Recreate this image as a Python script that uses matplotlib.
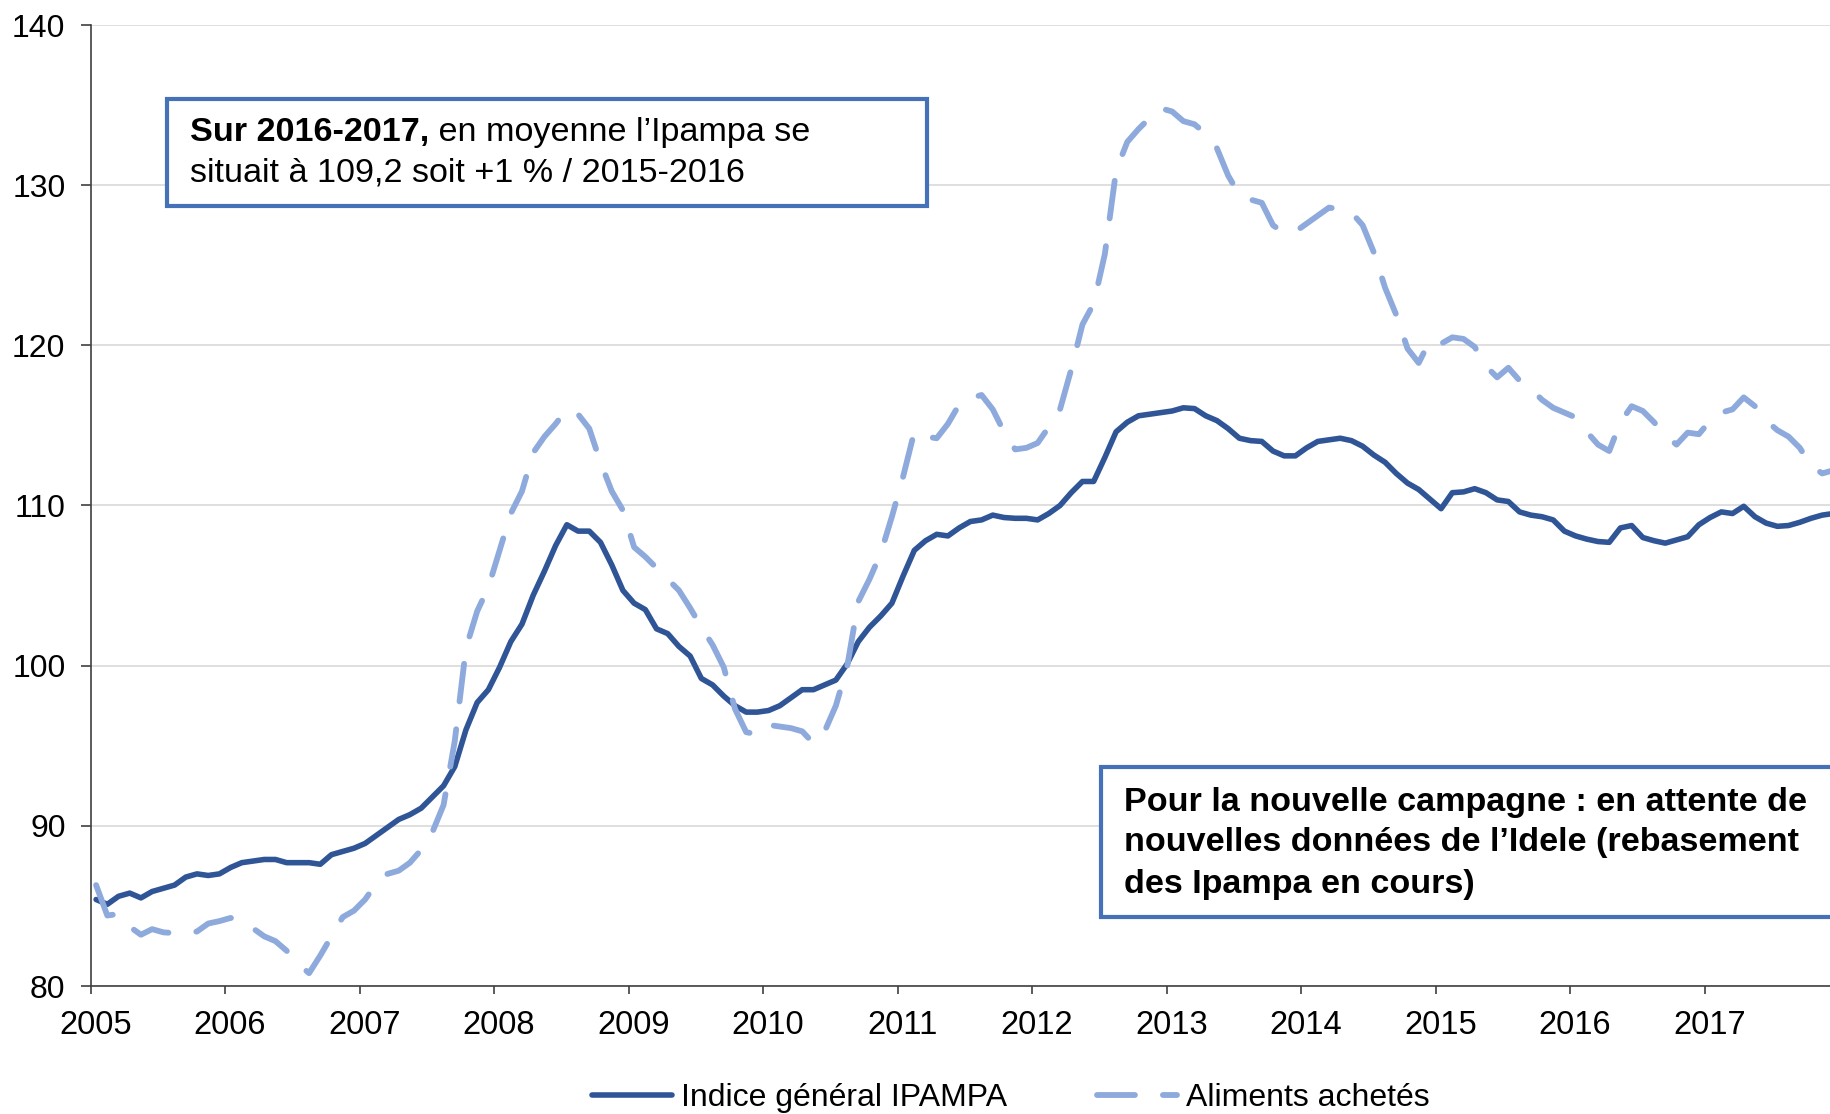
import matplotlib
matplotlib.use("Agg")
import matplotlib.pyplot as plt
from matplotlib.patches import Rectangle
from matplotlib.text import Annotation
from matplotlib.transforms import ScaledTranslation
import numpy as np

# indices mensuels, janvier 2005 -> décembre 2017
ipampa = [
    85.4, 85.1, 85.6, 85.8, 85.5, 85.9, 86.1, 86.3, 86.8, 87.0, 86.9, 87.0,        # 2005
    87.4, 87.7, 87.8, 87.9, 87.9, 87.7, 87.7, 87.7, 87.6, 88.2, 88.4, 88.6,        # 2006
    88.9, 89.4, 89.9, 90.4, 90.7, 91.1, 91.8, 92.5, 93.7, 96.0, 97.7, 98.5,        # 2007
    99.9, 101.5, 102.6, 104.4, 105.9, 107.5, 108.8, 108.4, 108.4, 107.7, 106.3, 104.7,  # 2008
    103.9, 103.5, 102.3, 102.0, 101.2, 100.6, 99.2, 98.8, 98.1, 97.5, 97.1, 97.1,  # 2009
    97.2, 97.5, 98.0, 98.5, 98.5, 98.8, 99.1, 100.1, 101.5, 102.4, 103.1, 103.9,   # 2010
    105.6, 107.2, 107.8, 108.2, 108.1, 108.6, 109.0, 109.1, 109.4, 109.25, 109.2, 109.2,  # 2011
    109.1, 109.5, 110.0, 110.8, 111.5, 111.5, 113.0, 114.6, 115.2, 115.6, 115.7, 115.8,   # 2012
    115.9, 116.1, 116.05, 115.6, 115.3, 114.8, 114.2, 114.05, 114.0, 113.4, 113.1, 113.1,  # 2013
    113.6, 114.0, 114.1, 114.2, 114.05, 113.7, 113.15, 112.7, 112.0, 111.4, 111.0, 110.4,  # 2014
    109.8, 110.8, 110.85, 111.05, 110.8, 110.35, 110.25, 109.6, 109.4, 109.3, 109.1, 108.4,  # 2015
    108.1, 107.9, 107.75, 107.7, 108.6, 108.75, 108.0, 107.8, 107.65, 107.85, 108.05, 108.8,  # 2016
    109.25, 109.6, 109.5, 109.95, 109.3, 108.9, 108.7, 108.75, 108.95, 109.2, 109.4, 109.5,   # 2017
]

aliments = [
    86.3, 84.4, 84.5, 83.7, 83.2, 83.55, 83.35, 83.3, 83.3, 83.4, 83.9, 84.05,     # 2005
    84.25, 84.1, 83.6, 83.1, 82.8, 82.2, 81.4, 80.8, 81.9, 83.1, 84.3, 84.7,       # 2006
    85.4, 86.4, 87.0, 87.2, 87.7, 88.5, 89.6, 91.3, 95.3, 101.1, 103.4, 104.9,     # 2007
    107.2, 109.5, 110.9, 113.3, 114.3, 115.1, 116.0, 115.7, 114.8, 112.7, 110.9, 109.7,  # 2008
    107.4, 106.8, 106.1, 105.4, 104.7, 103.6, 102.4, 101.3, 99.9, 97.3, 95.85, 95.7,    # 2009
    96.3, 96.2, 96.1, 95.9, 95.15, 95.9, 97.5, 99.9, 104.0, 105.4, 107.0, 109.3,   # 2010
    111.8, 114.6, 114.3, 114.2, 115.1, 116.3, 116.7, 116.9, 116.0, 114.6, 113.5, 113.6,  # 2011
    113.9, 114.9, 116.0, 118.5, 121.3, 122.6, 125.7, 130.9, 132.7, 133.5, 134.2, 134.8,  # 2012
    134.6, 134.0, 133.8, 133.2, 132.3, 130.6, 129.4, 129.1, 128.9, 127.5, 127.0, 127.1,  # 2013
    127.6, 128.1, 128.6, 128.5, 128.3, 127.5, 125.8, 123.6, 121.9, 119.8, 118.9, 120.3,  # 2014
    120.1, 120.5, 120.4, 119.9, 118.7, 118.0, 118.6, 117.8, 117.3, 116.6, 116.1, 115.8,  # 2015
    115.5, 114.6, 113.8, 113.4, 115.2, 116.2, 115.9, 115.2, 114.4, 113.8, 114.55, 114.45,  # 2016
    115.3, 115.8, 116.0, 116.75, 116.2, 115.3, 114.7, 114.3, 113.6, 112.5, 112.0, 112.2,   # 2017
]

years = list(range(2005, 2018))
yticks = [80, 90, 100, 110, 120, 130, 140]

plt.rcParams["font.family"] = ["Liberation Sans", "DejaVu Sans"]

W, H = 1831, 1114
fig = plt.figure(figsize=(W / 100, H / 100), dpi=100)


def fx(px):
    return px / W


def fy(py):
    return 1 - py / H


ax = fig.add_axes([fx(90.5), fy(986), (1839 - 90.5) / W, (986 - 25) / H])

x = 2005 + (np.arange(len(ipampa)) + 0.5) / 12

ax.plot(x, ipampa, color="#2F5597", lw=4.0, solid_joinstyle="round",
        solid_capstyle="round", label="Indice général IPAMPA", zorder=2)
ax.plot(x, aliments, color="#8EAADC", lw=4.2, dashes=(6.5, 4.8),
        dash_capstyle="round", dash_joinstyle="round",
        label="Aliments achetés", zorder=3)

ax.set_xlim(2005, 2018)
ax.set_ylim(80, 140)
ax.set_xticks(years)
ax.set_xticklabels([str(y) for y in years])
ax.set_yticks(yticks)

ax.yaxis.grid(True, color="#D9D9D9", lw=1.2)
ax.set_axisbelow(True)
for s in ["top", "right"]:
    ax.spines[s].set_visible(False)
for s in ["left", "bottom"]:
    ax.spines[s].set_color("#404040")
    ax.spines[s].set_linewidth(1.2)

ax.tick_params(axis="x", length=6, width=1.2, color="#404040", pad=11, labelsize=23.5)
ax.tick_params(axis="y", length=7, width=1.2, color="#404040", pad=11, labelsize=23)
for lbl in ax.get_xticklabels():
    lbl.set_transform(lbl.get_transform() + ScaledTranslation(0.05, 0, fig.dpi_scale_trans))

fig.legend(loc="center", bbox_to_anchor=(0.552, fy(1098)), ncol=2, frameon=False,
           fontsize=23, handlelength=2.5, handletextpad=0.3, columnspacing=2.8)

# encadré 1
fig.add_artist(Rectangle((fx(167), fy(205.5)), fx(927) - fx(167), fy(99) - fy(205.5),
                         transform=fig.transFigure, facecolor="white",
                         edgecolor="#4471B8", lw=3, zorder=5))
t1 = fig.text(fx(190), fy(132), "Sur 2016-2017,", fontsize=24.6, fontweight="bold",
              va="center", ha="left", zorder=6)
rest = Annotation(" en moyenne l\u2019Ipampa se", xy=(1, 0.5), xycoords=t1,
                  fontsize=24.6, va="center", ha="left", annotation_clip=False)
rest.set_zorder(6)
fig.add_artist(rest)
fig.text(fx(190), fy(173), "situait à 109,2 soit +1 % / 2015-2016", fontsize=24.6,
         va="center", ha="left", zorder=6)

# encadré 2
fig.add_artist(Rectangle((fx(1101), fy(917)), fx(1960) - fx(1101), fy(767) - fy(917),
                         transform=fig.transFigure, facecolor="white",
                         edgecolor="#4471B8", lw=3, zorder=5))
lines2 = ["Pour la nouvelle campagne : en attente de",
          "nouvelles données de l\u2019Idele (rebasement",
          "des Ipampa en cours)"]
for txt, yc in zip(lines2, [803, 843, 884]):
    fig.text(fx(1124), fy(yc), txt, fontsize=24.6, fontweight="bold",
             va="center", ha="left", zorder=6)

fig.savefig("out.png", dpi=100)
